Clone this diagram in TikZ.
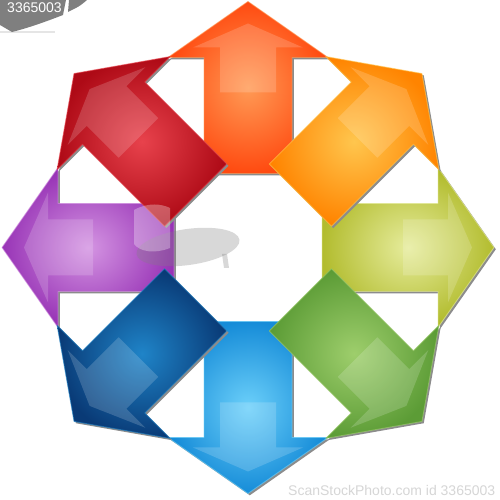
\documentclass[tikz,border=0pt]{standalone}
\usepackage{fontspec}
\setmainfont{Liberation Sans}
\definecolor{wmgray}{HTML}{7F7F7F}
\definecolor{wmlight}{HTML}{D6D6D6}
\definecolor{shadowgray}{HTML}{8C8C8C}
\definecolor{oTop}{HTML}{FF4A10}\definecolor{iTop}{HTML}{FF9A55}
\definecolor{oTR}{HTML}{FF8400}\definecolor{iTR}{HTML}{FFC64E}
\definecolor{oR}{HTML}{B2BC2E}\definecolor{iR}{HTML}{E6EC9C}
\definecolor{oBR}{HTML}{5C9C36}\definecolor{iBR}{HTML}{9ECE6C}
\definecolor{oB}{HTML}{168CD8}\definecolor{iB}{HTML}{6CD0FA}
\definecolor{oBL}{HTML}{093A76}\definecolor{iBL}{HTML}{1F84C8}
\definecolor{oL}{HTML}{9834B6}\definecolor{iL}{HTML}{D494E2}
\definecolor{oTL}{HTML}{AE0A16}\definecolor{iTL}{HTML}{E8424C}
\tikzset{
  shadowstyle/.style={fill=shadowgray},
  glossstyle/.style={fill=white, opacity=.17},
}
\newcommand\onearrow[3]{%
  \begin{scope}[shift={(C)}]
    \begin{scope}[shift={(1.8,-1.8)},rotate=#1]
      \path[shadowstyle] (-44,74) -- (-44,190) -- (-80,190) -- (0,246) -- (80,190) -- (44,190) -- (44,74) -- cycle;
    \end{scope}
    \begin{scope}[rotate=#1]
      \shade[inner color=#3, outer color=#2] (-44,74) -- (-44,190) -- (-80,190) -- (0,246) -- (80,190) -- (44,190) -- (44,74) -- cycle;
      \path[glossstyle] (-28,155) -- (-28,200) -- (-55,200) -- (0,224) -- (55,200) -- (28,200) -- (28,155) -- cycle;
      \draw[#3, line width=.9, opacity=.6, line join=round] (-44,74) -- (-44,190) -- (-80,190) -- (0,246) -- (80,190) -- (44,190) -- (44,74) -- cycle;
    \end{scope}
  \end{scope}}
\begin{document}
\begin{tikzpicture}[x=1pt,y=1pt]
\useasboundingbox (0,0) rectangle (499,500);
\fill[white] (0,0) rectangle (499,500);
\coordinate (C) at (248,252.5);
% straight arrows
\onearrow{0}{oTop}{iTop}
\onearrow{-90}{oR}{iR}
\onearrow{180}{oB}{iB}
\onearrow{90}{oL}{iL}
% diagonal arrows
\onearrow{-45}{oTR}{iTR}
\onearrow{-135}{oBR}{iBR}
\onearrow{135}{oBL}{iBL}
\onearrow{45}{oTL}{iTL}
% centre watermark
\fill[gray, opacity=.3, rotate around={8:(188,253)}] (188,253) ellipse (52 and 18);
\fill[gray, opacity=.3] (222,246) -- (227,246) -- (229,232) -- (224,232) -- cycle;
\fill[white, opacity=.3] (134,290) .. controls (148,298) and (162,296) .. (170,292) -- (170,252) .. controls (155,246) and (140,248) .. (134,256) -- cycle;
% top-left watermark
\draw[gray!20, line width=2] (0,468) -- (55,468);
\fill[wmgray] (0,500) -- (66,500) -- (63,485) .. controls (45,478) and (28,472) .. (12,468) -- (0,475) -- cycle;
\fill[wmgray] (69,500) -- (87,500) .. controls (80,494) .. (68,488) -- cycle;
\node[text=white, font=\fontsize{14}{14}\selectfont, inner sep=0] (wmid) at (34.5,492) {3365003};
% bottom watermark
\node[text=wmlight, font=\fontsize{14}{14}\selectfont, anchor=base west, inner sep=0] (wmtext) at (288,5) {ScanStockPhoto.com id 3365003};
\end{tikzpicture}
\end{document}
